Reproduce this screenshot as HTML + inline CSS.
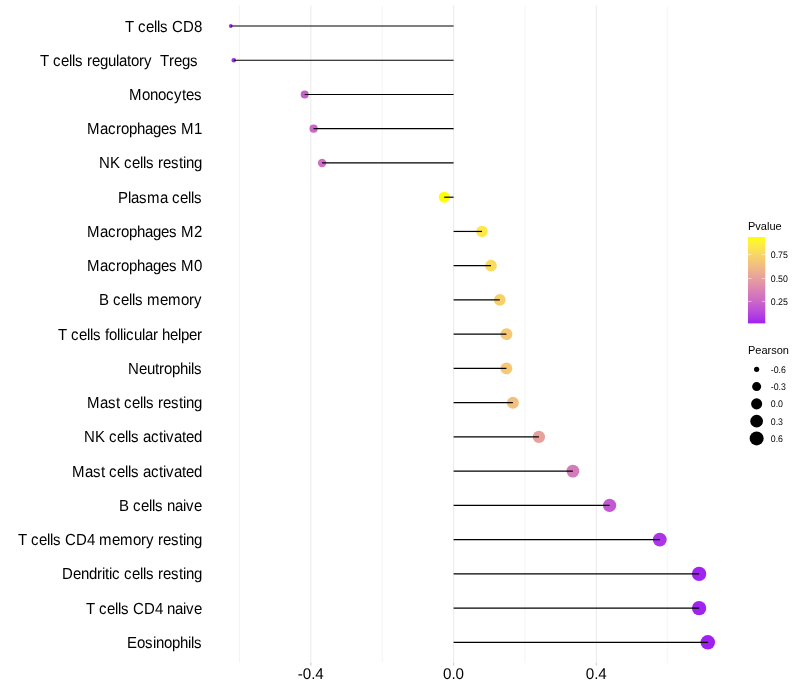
<!DOCTYPE html>
<html lang="en">
<head>
<meta charset="utf-8">
<title>Pearson correlation lollipop chart</title>
<style>
html,body{margin:0;padding:0;background:#fff;}
body{width:800px;height:700px;overflow:hidden;}
svg{display:block;}
text{font-family:"Liberation Sans",Arial,Helvetica,sans-serif;fill:#000;}
.ylab{font-size:15px;text-anchor:start;white-space:pre;text-rendering:geometricPrecision;}
.xlab{font-size:15.5px;text-anchor:middle;text-rendering:geometricPrecision;}
.ltitle{font-size:11px;}
.llab{font-size:8.8px;text-rendering:geometricPrecision;}
.grid line{stroke:#ebebeb;}
.seg line{stroke:#000;stroke-width:1.2;}
</style>
</head>
<body>
<svg width="800" height="700" viewBox="0 0 800 700">
<rect x="0" y="0" width="800" height="700" fill="#ffffff"/>
<g class="grid">
<line x1="239.46" y1="5.50" x2="239.46" y2="662.80" stroke-width="0.53"/>
<line x1="382.22" y1="5.50" x2="382.22" y2="662.80" stroke-width="0.53"/>
<line x1="524.98" y1="5.50" x2="524.98" y2="662.80" stroke-width="0.53"/>
<line x1="667.74" y1="5.50" x2="667.74" y2="662.80" stroke-width="0.53"/>
<line x1="310.84" y1="5.50" x2="310.84" y2="665.55" stroke-width="1.07"/>
<line x1="453.60" y1="5.50" x2="453.60" y2="665.55" stroke-width="1.07"/>
<line x1="596.36" y1="5.50" x2="596.36" y2="665.55" stroke-width="1.07"/>
<line x1="310.84" y1="662.80" x2="310.84" y2="665.55" stroke-width="1.07" style="stroke:#d2d2d2"/>
<line x1="453.60" y1="662.80" x2="453.60" y2="665.55" stroke-width="1.07" style="stroke:#d2d2d2"/>
<line x1="596.36" y1="662.80" x2="596.36" y2="665.55" stroke-width="1.07" style="stroke:#d2d2d2"/>
</g>
<g class="pts" fill-opacity="1">
<circle cx="230.80" cy="26.00" r="1.89" fill="#a72ceb"/>
<circle cx="233.80" cy="60.24" r="2.31" fill="#a72eeb"/>
<circle cx="304.70" cy="94.48" r="3.99" fill="#c65fce"/>
<circle cx="313.60" cy="128.72" r="4.11" fill="#cb67c9"/>
<circle cx="322.10" cy="162.96" r="4.23" fill="#d06fc3"/>
<circle cx="444.20" cy="197.20" r="5.46" fill="#ffff00"/>
<circle cx="482.00" cy="231.44" r="5.76" fill="#fce74d"/>
<circle cx="491.00" cy="265.68" r="5.83" fill="#f9db5e"/>
<circle cx="499.80" cy="299.92" r="5.90" fill="#f7d06c"/>
<circle cx="506.40" cy="334.16" r="5.95" fill="#f5c875"/>
<circle cx="506.40" cy="368.40" r="5.95" fill="#f5c875"/>
<circle cx="512.90" cy="402.64" r="5.99" fill="#f2c07e"/>
<circle cx="538.90" cy="436.88" r="6.18" fill="#e7a09b"/>
<circle cx="572.90" cy="471.12" r="6.41" fill="#d67bba"/>
<circle cx="609.60" cy="505.36" r="6.65" fill="#c259d2"/>
<circle cx="659.80" cy="539.60" r="6.95" fill="#ac35e7"/>
<circle cx="699.10" cy="573.84" r="7.18" fill="#a123ef"/>
<circle cx="699.10" cy="608.08" r="7.18" fill="#a123ef"/>
<circle cx="707.80" cy="642.32" r="7.23" fill="#a020f0"/>
</g>
<g class="seg">
<line x1="453.60" y1="26.00" x2="230.80" y2="26.00"/>
<line x1="453.60" y1="60.24" x2="233.80" y2="60.24"/>
<line x1="453.60" y1="94.48" x2="304.70" y2="94.48"/>
<line x1="453.60" y1="128.72" x2="313.60" y2="128.72"/>
<line x1="453.60" y1="162.96" x2="322.10" y2="162.96"/>
<line x1="453.60" y1="197.20" x2="444.20" y2="197.20"/>
<line x1="453.60" y1="231.44" x2="482.00" y2="231.44"/>
<line x1="453.60" y1="265.68" x2="491.00" y2="265.68"/>
<line x1="453.60" y1="299.92" x2="499.80" y2="299.92"/>
<line x1="453.60" y1="334.16" x2="506.40" y2="334.16"/>
<line x1="453.60" y1="368.40" x2="506.40" y2="368.40"/>
<line x1="453.60" y1="402.64" x2="512.90" y2="402.64"/>
<line x1="453.60" y1="436.88" x2="538.90" y2="436.88"/>
<line x1="453.60" y1="471.12" x2="572.90" y2="471.12"/>
<line x1="453.60" y1="505.36" x2="609.60" y2="505.36"/>
<line x1="453.60" y1="539.60" x2="659.80" y2="539.60"/>
<line x1="453.60" y1="573.84" x2="699.10" y2="573.84"/>
<line x1="453.60" y1="608.08" x2="699.10" y2="608.08"/>
<line x1="453.60" y1="642.32" x2="707.80" y2="642.32"/>
</g>
<g>
<text class="ylab" xml:space="preserve" transform="translate(0,32) scale(1,1.07)" x="125 134 138 146 154 157 160 168 172 183 194" y="0">T cells CD8</text>
<text class="ylab" xml:space="preserve" transform="translate(0,66) scale(1,1.07)" x="40 49 53 61 69 72 75 83 87 92 100 108 116 119 127 131 139 144 152 156 160 169 174 182 190 198" y="0">T cells regulatory  Tregs </text>
<text class="ylab" xml:space="preserve" transform="translate(0,100) scale(1,1.07)" x="129 142 150 158 166 174 182 186 194" y="0">Monocytes</text>
<text class="ylab" xml:space="preserve" transform="translate(0,134) scale(1,1.07)" x="87 100 108 116 121 129 137 145 153 161 169 177 181 194" y="0">Macrophages M1</text>
<text class="ylab" xml:space="preserve" transform="translate(0,168) scale(1,1.07)" x="99 110 120 124 132 140 143 146 154 158 163 171 179 183 186 194" y="0">NK cells resting</text>
<text class="ylab" xml:space="preserve" transform="translate(0,203) scale(1,1.07)" x="118 128 131 139 147 160 168 172 180 188 191 194" y="0">Plasma cells</text>
<text class="ylab" xml:space="preserve" transform="translate(0,237) scale(1,1.07)" x="87 100 108 116 121 129 137 145 153 161 169 177 181 194" y="0">Macrophages M2</text>
<text class="ylab" xml:space="preserve" transform="translate(0,271) scale(1,1.07)" x="87 100 108 116 121 129 137 145 153 161 169 177 181 194" y="0">Macrophages M0</text>
<text class="ylab" xml:space="preserve" transform="translate(0,305) scale(1,1.07)" x="99 109 113 121 129 132 135 143 147 160 168 181 189 194" y="0">B cells memory</text>
<text class="ylab" xml:space="preserve" transform="translate(0,340) scale(1,1.07)" x="58 67 71 79 87 90 93 101 105 109 117 120 123 126 134 142 145 153 158 162 170 178 181 189 197" y="0">T cells follicular helper</text>
<text class="ylab" xml:space="preserve" transform="translate(0,374) scale(1,1.07)" x="128 139 147 155 159 164 172 180 188 191 194" y="0">Neutrophils</text>
<text class="ylab" xml:space="preserve" transform="translate(0,408) scale(1,1.07)" x="87 100 108 116 120 124 132 140 143 146 154 158 163 171 179 183 186 194" y="0">Mast cells resting</text>
<text class="ylab" xml:space="preserve" transform="translate(0,442) scale(1,1.07)" x="84 95 105 109 117 125 128 131 139 143 151 159 163 166 174 182 186 194" y="0">NK cells activated</text>
<text class="ylab" xml:space="preserve" transform="translate(0,477) scale(1,1.07)" x="72 85 93 101 105 109 117 125 128 131 139 143 151 159 163 166 174 182 186 194" y="0">Mast cells activated</text>
<text class="ylab" xml:space="preserve" transform="translate(0,511) scale(1,1.07)" x="119 129 133 141 149 152 155 163 167 175 183 186 194" y="0">B cells naive</text>
<text class="ylab" xml:space="preserve" transform="translate(0,545) scale(1,1.07)" x="18 27 31 39 47 50 53 61 65 76 87 95 99 112 120 133 141 146 154 158 163 171 179 183 186 194" y="0">T cells CD4 memory resting</text>
<text class="ylab" xml:space="preserve" transform="translate(0,579) scale(1,1.07)" x="62 73 81 89 97 102 105 109 112 120 124 132 140 143 146 154 158 163 171 179 183 186 194" y="0">Dendritic cells resting</text>
<text class="ylab" xml:space="preserve" transform="translate(0,614) scale(1,1.07)" x="86 95 99 107 115 118 121 129 133 144 155 163 167 175 183 186 194" y="0">T cells CD4 naive</text>
<text class="ylab" xml:space="preserve" transform="translate(0,648) scale(1,1.07)" x="127 137 145 153 156 164 172 180 188 191 194" y="0">Eosinophils</text>
</g>
<g>
<text class="xlab" transform="translate(310.74,679.00) scale(0.98,1)">-0.4</text>
<text class="xlab" transform="translate(453.50,679.00) scale(0.98,1)">0.0</text>
<text class="xlab" transform="translate(596.26,679.00) scale(0.98,1)">0.4</text>
</g>
<defs><linearGradient id="cb" x1="0" y1="1" x2="0" y2="0">
<stop offset="0.00" stop-color="#a020f0"/>
<stop offset="0.05" stop-color="#aa33e8"/>
<stop offset="0.10" stop-color="#b441e1"/>
<stop offset="0.15" stop-color="#bc4ed9"/>
<stop offset="0.20" stop-color="#c35ad1"/>
<stop offset="0.25" stop-color="#ca66c9"/>
<stop offset="0.30" stop-color="#d171c1"/>
<stop offset="0.35" stop-color="#d67bb9"/>
<stop offset="0.40" stop-color="#dc86b1"/>
<stop offset="0.45" stop-color="#e190a9"/>
<stop offset="0.50" stop-color="#e59ba0"/>
<stop offset="0.55" stop-color="#e9a597"/>
<stop offset="0.60" stop-color="#edaf8e"/>
<stop offset="0.65" stop-color="#f0b984"/>
<stop offset="0.70" stop-color="#f3c37a"/>
<stop offset="0.75" stop-color="#f6cd6f"/>
<stop offset="0.80" stop-color="#f8d763"/>
<stop offset="0.85" stop-color="#fbe156"/>
<stop offset="0.90" stop-color="#fceb46"/>
<stop offset="0.95" stop-color="#fef530"/>
<stop offset="1.00" stop-color="#ffff00"/>
</linearGradient></defs>
<text class="ltitle" x="748.00" y="230.20">Pvalue</text>
<rect x="748.00" y="237.00" width="17.28" height="86.40" fill="url(#cb)"/>
<line x1="748.00" y1="301.40" x2="751.46" y2="301.40" stroke="#fff" stroke-width="0.53"/>
<line x1="761.82" y1="301.40" x2="765.28" y2="301.40" stroke="#fff" stroke-width="0.53"/>
<text class="llab" transform="translate(770.78,305) scale(1,1.08)">0.25</text>
<line x1="748.00" y1="278.50" x2="751.46" y2="278.50" stroke="#fff" stroke-width="0.53"/>
<line x1="761.82" y1="278.50" x2="765.28" y2="278.50" stroke="#fff" stroke-width="0.53"/>
<text class="llab" transform="translate(770.78,282) scale(1,1.08)">0.50</text>
<line x1="748.00" y1="254.60" x2="751.46" y2="254.60" stroke="#fff" stroke-width="0.53"/>
<line x1="761.82" y1="254.60" x2="765.28" y2="254.60" stroke="#fff" stroke-width="0.53"/>
<text class="llab" transform="translate(770.78,258) scale(1,1.08)">0.75</text>
<text class="ltitle" x="748.00" y="354.30">Pearson</text>
<circle cx="756.64" cy="369.30" r="2.61" fill="#000"/>
<text class="llab" transform="translate(770.78,373) scale(1,1.08)">-0.6</text>
<circle cx="756.64" cy="386.58" r="4.52" fill="#000"/>
<text class="llab" transform="translate(770.78,390) scale(1,1.08)">-0.3</text>
<circle cx="756.64" cy="403.86" r="5.54" fill="#000"/>
<text class="llab" transform="translate(770.78,407) scale(1,1.08)">0.0</text>
<circle cx="756.64" cy="421.14" r="6.33" fill="#000"/>
<text class="llab" transform="translate(770.78,425) scale(1,1.08)">0.3</text>
<circle cx="756.64" cy="438.42" r="7.00" fill="#000"/>
<text class="llab" transform="translate(770.78,442) scale(1,1.08)">0.6</text>
</svg>
</body>
</html>
